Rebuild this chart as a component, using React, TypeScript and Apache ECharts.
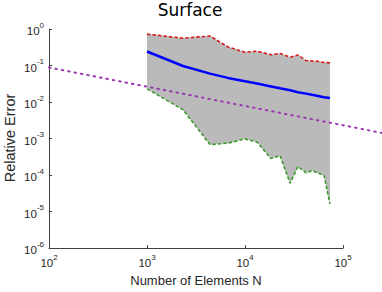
import React, { useEffect, useRef } from "react";
import * as echarts from "echarts";

const titleText = "Surface";
const xAxisName = "Number of Elements N";
const yAxisName = "Relative Error";

const elements = [1000, 2330, 4400, 6700, 10000, 13250, 18400, 22800, 28800, 34700, 41900, 48300, 55600, 64000, 73600];
const maxError = [0.724, 0.56, 0.641, 0.321, 0.232, 0.246, 0.198, 0.214, 0.169, 0.193, 0.137, 0.133, 0.13, 0.121, 0.118];
const minError = [0.023, 0.00617, 0.000684, 0.000748, 0.00098, 0.000804, 0.000284, 0.00034, 0.0000597, 0.000172, 0.000115, 0.000133, 0.000113, 0.000098, 0.0000163];
const meanError = [0.242, 0.0968, 0.06, 0.0458, 0.0371, 0.032, 0.0267, 0.0237, 0.021, 0.0186, 0.017, 0.0158, 0.0147, 0.0136, 0.0129];
const refN = [100, 250000];
const refError = [0.1, 0.002];

const supLabel = (v: number) => {
  const e = Math.round(Math.log10(v));
  return `{b|10}{s|${e}}`;
};

const font = "Liberation Sans, Arial, sans-serif";
const richLabel = {
  b: { fontSize: 11.5, fontFamily: font, color: "#262626", verticalAlign: "bottom", lineHeight: 16 },
  s: { fontSize: 8, fontFamily: font, color: "#262626", verticalAlign: "top", lineHeight: 16, padding: [0, 0, 6, 0] },
};

export default function App() {
  const ref = useRef<HTMLDivElement>(null);
  useEffect(() => {
    if (!ref.current) return;
    const chart = echarts.init(ref.current, null, { renderer: "svg" });
    chart.setOption({
      animation: false,
      backgroundColor: "#ffffff",
      title: {
        text: titleText,
        left: 185,
        textAlign: "center",
        top: -4,
        textStyle: { fontFamily: "DejaVu Sans", fontSize: 17, fontWeight: "normal", color: "#000" },
      },
      graphic: [
        {
          type: "text",
          x: 10,
          y: 138,
          rotation: Math.PI / 2,
          style: { text: yAxisName, fontFamily: font, fontSize: 14.5, fill: "#262626", textAlign: "center", textVerticalAlign: "middle" },
        },
      ],
      grid: [
        { left: 49, right: 39, top: 29, bottom: 32, containLabel: false },
        { left: 49, right: 0, top: 29, bottom: 32, containLabel: false },
      ],
      xAxis: [
        {
          type: "log",
          logBase: 10,
          min: 100,
          max: 100000,
          gridIndex: 0,
          name: xAxisName,
          nameLocation: "middle",
          nameGap: 25,
          nameTextStyle: { fontFamily: font, fontSize: 13, color: "#262626" },
          axisLine: { lineStyle: { color: "#404040", width: 1 } },
          axisTick: { inside: true, length: 3, lineStyle: { color: "#404040" } },
          axisLabel: { formatter: supLabel, rich: richLabel, margin: 5 },
          splitLine: { show: false },
          minorTick: { show: false },
        },
        {
          type: "log",
          logBase: 10,
          min: 100,
          max: 250000,
          gridIndex: 1,
          show: false,
        },
      ],
      yAxis: [
        {
          type: "log",
          logBase: 10,
          min: 1e-6,
          max: 1,
          gridIndex: 0,
          axisLine: { show: true, lineStyle: { color: "#404040", width: 1 } },
          axisTick: { show: true, inside: true, length: 3, lineStyle: { color: "#404040" } },
          axisLabel: { formatter: supLabel, rich: richLabel, margin: 5 },
          splitLine: { show: false },
        },
        {
          type: "log",
          logBase: 10,
          min: 1e-6,
          max: 1,
          gridIndex: 1,
          show: false,
        },
      ],
      series: [
        {
          type: "custom",
          xAxisIndex: 0,
          yAxisIndex: 0,
          data: [[elements[0], maxError[0]]],
          z: 1,
          renderItem: (_params: any, api: any) => {
            const pts: number[][] = [];
            for (let i = 0; i < elements.length; i++) pts.push(api.coord([elements[i], maxError[i]]));
            for (let i = elements.length - 1; i >= 0; i--) pts.push(api.coord([elements[i], minError[i]]));
            return { type: "polygon", shape: { points: pts }, style: { fill: "#bababa", stroke: "none" } };
          },
        },
        {
          type: "line",
          xAxisIndex: 1,
          yAxisIndex: 1,
          data: refN.map((n, i) => [n, refError[i]]),
          showSymbol: false,
          z: 2,
          lineStyle: { color: "#9b35b0", width: 2, type: [1.5, 5], cap: "round" },
        },
        {
          type: "line",
          xAxisIndex: 0,
          yAxisIndex: 0,
          data: elements.map((n, i) => [n, maxError[i]]),
          showSymbol: false,
          z: 3,
          lineStyle: { color: "#d41a1a", width: 1.6, type: [3.5, 2] },
        },
        {
          type: "line",
          xAxisIndex: 0,
          yAxisIndex: 0,
          data: elements.map((n, i) => [n, minError[i]]),
          showSymbol: false,
          z: 3,
          lineStyle: { color: "#3a9a2a", width: 1.6, type: [3.5, 2] },
        },
        {
          type: "line",
          xAxisIndex: 0,
          yAxisIndex: 0,
          data: elements.map((n, i) => [n, meanError[i]]),
          showSymbol: false,
          z: 4,
          lineStyle: { color: "#0000ff", width: 2.5 },
        },
      ],
    });
    return () => chart.dispose();
  }, []);
  return <div ref={ref} style={{ width: 382, height: 292, position: "absolute", left: 0, top: 0 }} />;
}
